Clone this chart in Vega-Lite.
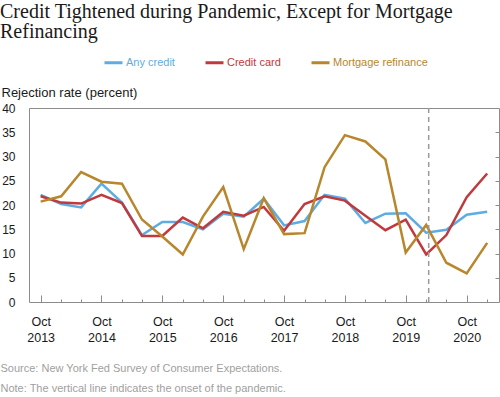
{
  "$schema": "https://vega.github.io/schema/vega-lite/v6.json",
  "width": 470,
  "height": 194,
  "autosize": {"type": "none"},
  "padding": {"left": 29, "top": 108, "right": 1, "bottom": 95},
  "background": "white",
  "config": {
    "view": {"stroke": "#8c8c8c", "strokeWidth": 1},
    "font": "Liberation Sans"
  },
  "title": {
    "text": ["Credit Tightened during Pandemic, Except for Mortgage", "Refinancing"],
    "font": "Liberation Serif",
    "fontSize": 20,
    "fontWeight": "normal",
    "color": "#1a1a1a",
    "anchor": "start",
    "frame": "group",
    "dx": -29,
    "lineHeight": 20,
    "offset": 10
  },
  "data": {
    "values": [
      {"date": "2013/10/01", "series": "Any credit", "value": 22.1},
      {"date": "2014/02/01", "series": "Any credit", "value": 20.2},
      {"date": "2014/06/01", "series": "Any credit", "value": 19.5},
      {"date": "2014/10/01", "series": "Any credit", "value": 24.4},
      {"date": "2015/02/01", "series": "Any credit", "value": 20.5},
      {"date": "2015/06/01", "series": "Any credit", "value": 13.8},
      {"date": "2015/10/01", "series": "Any credit", "value": 16.5},
      {"date": "2016/02/01", "series": "Any credit", "value": 16.5},
      {"date": "2016/06/01", "series": "Any credit", "value": 15.0},
      {"date": "2016/10/01", "series": "Any credit", "value": 18.2},
      {"date": "2017/02/01", "series": "Any credit", "value": 17.6},
      {"date": "2017/06/01", "series": "Any credit", "value": 21.3},
      {"date": "2017/10/01", "series": "Any credit", "value": 15.8},
      {"date": "2018/02/01", "series": "Any credit", "value": 16.7},
      {"date": "2018/06/01", "series": "Any credit", "value": 22.1},
      {"date": "2018/10/01", "series": "Any credit", "value": 21.3},
      {"date": "2019/02/01", "series": "Any credit", "value": 16.3},
      {"date": "2019/06/01", "series": "Any credit", "value": 18.2},
      {"date": "2019/10/01", "series": "Any credit", "value": 18.3},
      {"date": "2020/02/01", "series": "Any credit", "value": 14.3},
      {"date": "2020/06/01", "series": "Any credit", "value": 14.9},
      {"date": "2020/10/01", "series": "Any credit", "value": 18.0},
      {"date": "2021/02/01", "series": "Any credit", "value": 18.6},
      {"date": "2013/10/01", "series": "Credit card", "value": 21.8},
      {"date": "2014/02/01", "series": "Credit card", "value": 20.5},
      {"date": "2014/06/01", "series": "Credit card", "value": 20.3},
      {"date": "2014/10/01", "series": "Credit card", "value": 22.1},
      {"date": "2015/02/01", "series": "Credit card", "value": 20.4},
      {"date": "2015/06/01", "series": "Credit card", "value": 13.6},
      {"date": "2015/10/01", "series": "Credit card", "value": 13.6},
      {"date": "2016/02/01", "series": "Credit card", "value": 17.4},
      {"date": "2016/06/01", "series": "Credit card", "value": 15.2},
      {"date": "2016/10/01", "series": "Credit card", "value": 18.6},
      {"date": "2017/02/01", "series": "Credit card", "value": 17.8},
      {"date": "2017/06/01", "series": "Credit card", "value": 19.6},
      {"date": "2017/10/01", "series": "Credit card", "value": 14.7},
      {"date": "2018/02/01", "series": "Credit card", "value": 20.2},
      {"date": "2018/06/01", "series": "Credit card", "value": 21.8},
      {"date": "2018/10/01", "series": "Credit card", "value": 20.9},
      {"date": "2019/02/01", "series": "Credit card", "value": 17.8},
      {"date": "2019/06/01", "series": "Credit card", "value": 14.8},
      {"date": "2019/10/01", "series": "Credit card", "value": 17.0},
      {"date": "2020/02/01", "series": "Credit card", "value": 9.8},
      {"date": "2020/06/01", "series": "Credit card", "value": 13.8},
      {"date": "2020/10/01", "series": "Credit card", "value": 21.6},
      {"date": "2021/02/01", "series": "Credit card", "value": 26.5},
      {"date": "2013/10/01", "series": "Mortgage refinance", "value": 20.7},
      {"date": "2014/02/01", "series": "Mortgage refinance", "value": 21.8},
      {"date": "2014/06/01", "series": "Mortgage refinance", "value": 26.8},
      {"date": "2014/10/01", "series": "Mortgage refinance", "value": 24.8},
      {"date": "2015/02/01", "series": "Mortgage refinance", "value": 24.4},
      {"date": "2015/06/01", "series": "Mortgage refinance", "value": 17.0},
      {"date": "2015/10/01", "series": "Mortgage refinance", "value": 13.5},
      {"date": "2016/02/01", "series": "Mortgage refinance", "value": 9.8},
      {"date": "2016/06/01", "series": "Mortgage refinance", "value": 17.6},
      {"date": "2016/10/01", "series": "Mortgage refinance", "value": 23.7},
      {"date": "2017/02/01", "series": "Mortgage refinance", "value": 10.9},
      {"date": "2017/06/01", "series": "Mortgage refinance", "value": 21.4},
      {"date": "2017/10/01", "series": "Mortgage refinance", "value": 14.0},
      {"date": "2018/02/01", "series": "Mortgage refinance", "value": 14.2},
      {"date": "2018/06/01", "series": "Mortgage refinance", "value": 27.8},
      {"date": "2018/10/01", "series": "Mortgage refinance", "value": 34.4},
      {"date": "2019/02/01", "series": "Mortgage refinance", "value": 33.1},
      {"date": "2019/06/01", "series": "Mortgage refinance", "value": 29.4},
      {"date": "2019/10/01", "series": "Mortgage refinance", "value": 10.2},
      {"date": "2020/02/01", "series": "Mortgage refinance", "value": 15.9},
      {"date": "2020/06/01", "series": "Mortgage refinance", "value": 8.1},
      {"date": "2020/10/01", "series": "Mortgage refinance", "value": 5.9},
      {"date": "2021/02/01", "series": "Mortgage refinance", "value": 12.2}
    ]
  },
  "layer": [
    {
      "mark": {"type": "line", "strokeWidth": 2.5},
      "encoding": {
        "x": {
          "field": "date",
          "type": "temporal",
          "scale": {"domain": [{"year": 2013, "month": 7, "date": 23}, {"year": 2021, "month": 4, "date": 13}]},
          "axis": {
            "orient": "bottom",
            "values": [
              {"year": 2014, "month": 2, "date": 1}, {"year": 2014, "month": 6, "date": 1},
              {"year": 2015, "month": 2, "date": 1}, {"year": 2015, "month": 6, "date": 1},
              {"year": 2016, "month": 2, "date": 1}, {"year": 2016, "month": 6, "date": 1},
              {"year": 2017, "month": 2, "date": 1}, {"year": 2017, "month": 6, "date": 1},
              {"year": 2018, "month": 2, "date": 1}, {"year": 2018, "month": 6, "date": 1},
              {"year": 2019, "month": 2, "date": 1}, {"year": 2019, "month": 6, "date": 1},
              {"year": 2020, "month": 2, "date": 1}, {"year": 2020, "month": 6, "date": 1},
              {"year": 2021, "month": 2, "date": 1}
            ],
            "labels": false,
            "tickSize": -3,
            "tickColor": "#8c8c8c",
            "domain": false,
            "grid": false,
            "title": ["Source: New York Fed Survey of Consumer Expectations.", "Note: The vertical line indicates the onset of the pandemic."],
            "titleX": -29,
            "titleY": 69,
            "titleAnchor": "start",
            "titleAlign": "left",
            "titleBaseline": "alphabetic",
            "titleFontSize": 11,
            "titleFontWeight": "normal",
            "titleColor": "#a0a0a0",
            "titleLineHeight": 20
          }
        },
        "y": {
          "field": "value",
          "type": "quantitative",
          "scale": {"domain": [0, 40], "nice": false},
          "axis": {
            "orient": "left",
            "values": [0, 5, 10, 15, 20, 25, 30, 35, 40],
            "ticks": false,
            "domain": false,
            "grid": false,
            "labelFontSize": 12,
            "labelColor": "#1a1a1a",
            "labelPadding": 14,
            "title": "Rejection rate (percent)",
            "titleAngle": 0,
            "titleAlign": "left",
            "titleBaseline": "alphabetic",
            "titleX": -28,
            "titleY": -11.5,
            "titleFontSize": 13,
            "titleFontWeight": "normal",
            "titleColor": "#1a1a1a"
          }
        },
        "color": {
          "field": "series",
          "type": "nominal",
          "scale": {"domain": ["Any credit", "Credit card", "Mortgage refinance"], "range": ["#5DADE2", "#C0393C", "#B8862C"]},
          "legend": {
            "orient": "none",
            "legendX": 74,
            "legendY": -56,
            "direction": "horizontal",
            "title": null,
            "symbolType": "stroke",
            "symbolStrokeWidth": 3,
            "symbolSize": 324,
            "labelFontSize": 11,
            "labelOffset": 2,
            "columnPadding": 24,
            "labelColor": {"expr": "datum.value == 'Any credit' ? '#5DADE2' : datum.value == 'Credit card' ? '#C0393C' : '#B8862C'"}
          }
        }
      }
    },
    {
      "data": {"values": [{"event": "pandemic onset"}]},
      "mark": {"type": "rule", "strokeDash": [5, 4], "color": "#9a9a9a", "strokeWidth": 1.5},
      "encoding": {
        "x": {
          "datum": {"year": 2020, "month": 2, "date": 16},
          "type": "temporal",
          "axis": {
            "orient": "bottom",
            "values": [
              {"year": 2013, "month": 10, "date": 1}, {"year": 2014, "month": 10, "date": 1},
              {"year": 2015, "month": 10, "date": 1}, {"year": 2016, "month": 10, "date": 1},
              {"year": 2017, "month": 10, "date": 1}, {"year": 2018, "month": 10, "date": 1},
              {"year": 2019, "month": 10, "date": 1}, {"year": 2020, "month": 10, "date": 1}
            ],
            "labelExpr": "['Oct', timeFormat(datum.value, '%Y')]",
            "labelFontSize": 12.5,
            "labelColor": "#1a1a1a",
            "labelLineHeight": 16,
            "labelPadding": 20,
            "labelFlush": false,
            "labelOverlap": false,
            "labelBaseline": "top",
            "tickSize": -7,
            "tickColor": "#8c8c8c",
            "domain": false,
            "grid": false,
            "title": null
          }
        },
        "y": {
          "datum": 0,
          "type": "quantitative",
          "axis": {
            "orient": "right",
            "values": [5, 10, 15, 20, 25, 30, 35],
            "labels": false,
            "domain": false,
            "grid": false,
            "tickSize": -4,
            "tickColor": "#8c8c8c",
            "title": null
          }
        },
        "y2": {"datum": 40}
      }
    }
  ],
  "resolve": {"axis": {"x": "independent", "y": "independent"}}
}
